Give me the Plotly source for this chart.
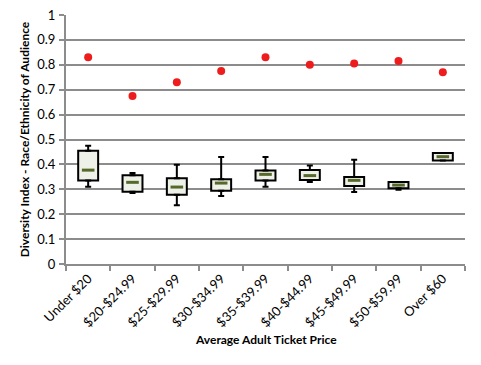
import plotly.graph_objects as go

categories = ["Under $20", "$20-$24.99", "$25-$29.99", "$30-$34.99", "$35-$39.99",
              "$40-$44.99", "$45-$49.99", "$50-$59.99", "Over $60"]
whisker_low = [0.310, 0.285, 0.236, 0.273, 0.310, 0.329, 0.289, 0.298, 0.416]
q1 = [0.335, 0.290, 0.278, 0.294, 0.335, 0.337, 0.313, 0.304, 0.416]
median = [0.377, 0.328, 0.309, 0.325, 0.360, 0.355, 0.336, 0.317, 0.431]
q3 = [0.455, 0.356, 0.344, 0.340, 0.376, 0.378, 0.349, 0.329, 0.446]
whisker_high = [0.475, 0.365, 0.399, 0.430, 0.430, 0.396, 0.419, 0.329, 0.446]
max_value = [0.830, 0.675, 0.730, 0.775, 0.830, 0.800, 0.805, 0.815, 0.770]

FONT = "Lato, 'Open Sans', sans-serif"
GRID = "#8c8c8c"

fig = go.Figure()

# whisker lower (from q1 down)
fig.add_trace(go.Scatter(
    x=categories, y=q1, mode="markers",
    marker=dict(color="rgba(0,0,0,0)", size=1),
    error_y=dict(type="data", symmetric=False,
                 array=[0] * len(q1),
                 arrayminus=[a - b for a, b in zip(q1, whisker_low)],
                 color="black", thickness=2, width=3),
    hoverinfo="skip", showlegend=False))
# whisker upper (from q3 up)
fig.add_trace(go.Scatter(
    x=categories, y=q3, mode="markers",
    marker=dict(color="rgba(0,0,0,0)", size=1),
    error_y=dict(type="data", symmetric=False,
                 array=[a - b for a, b in zip(whisker_high, q3)],
                 arrayminus=[0] * len(q3),
                 color="black", thickness=2, width=3),
    hoverinfo="skip", showlegend=False))

# boxes
fig.add_trace(go.Bar(
    x=categories, y=[a - b for a, b in zip(q3, q1)], base=q1,
    width=0.45, marker=dict(color="#eef1e7", line=dict(color="black", width=2)),
    showlegend=False))

# median dashes
fig.add_trace(go.Scatter(
    x=categories, y=median, mode="markers",
    marker=dict(symbol="line-ew", size=9, line=dict(color="#55692a", width=3)),
    showlegend=False))

# red dots
fig.add_trace(go.Scatter(
    x=categories, y=max_value, mode="markers",
    marker=dict(color="#ee1c1c", size=8, line=dict(width=0)),
    showlegend=False))

fig.update_layout(
    width=473, height=357,
    margin=dict(l=58, r=16, t=7, b=101),
    paper_bgcolor="white", plot_bgcolor="white",
    font=dict(family=FONT, size=12, color="black"),
    xaxis=dict(
        type="category", showgrid=False, showline=True, linecolor=GRID, linewidth=2,
        ticks="outside", tickson="boundaries", ticklen=5, tickcolor=GRID, tickwidth=1.5,
        tickangle=-45, tickfont=dict(size=13, family=FONT), automargin=False,
        range=[-0.5, 8.5],
    ),
    yaxis=dict(
        range=[0, 1], dtick=0.1, automargin=False,
        showgrid=True, gridcolor=GRID, gridwidth=1.5,
        showline=True, linecolor=GRID, linewidth=2,
        ticks="outside", ticklen=5, tickcolor=GRID, tickwidth=1.5,
        ticklabelstandoff=1, ticklabeloverflow="allow",
        tickfont=dict(size=13, family=FONT), zeroline=False,
        title=dict(text="<b>Diversity Index - Race/Ethnicity of Audience</b>",
                   font=dict(size=12, family=FONT), standoff=5),
    ),
    annotations=[dict(
        text="<b>Average Adult Ticket Price</b>", xref="paper", yref="paper",
        x=0.5, y=-0.305, xanchor="center", yanchor="middle", showarrow=False,
        font=dict(size=12, family=FONT))],
)

fig.write_html("out.html")
